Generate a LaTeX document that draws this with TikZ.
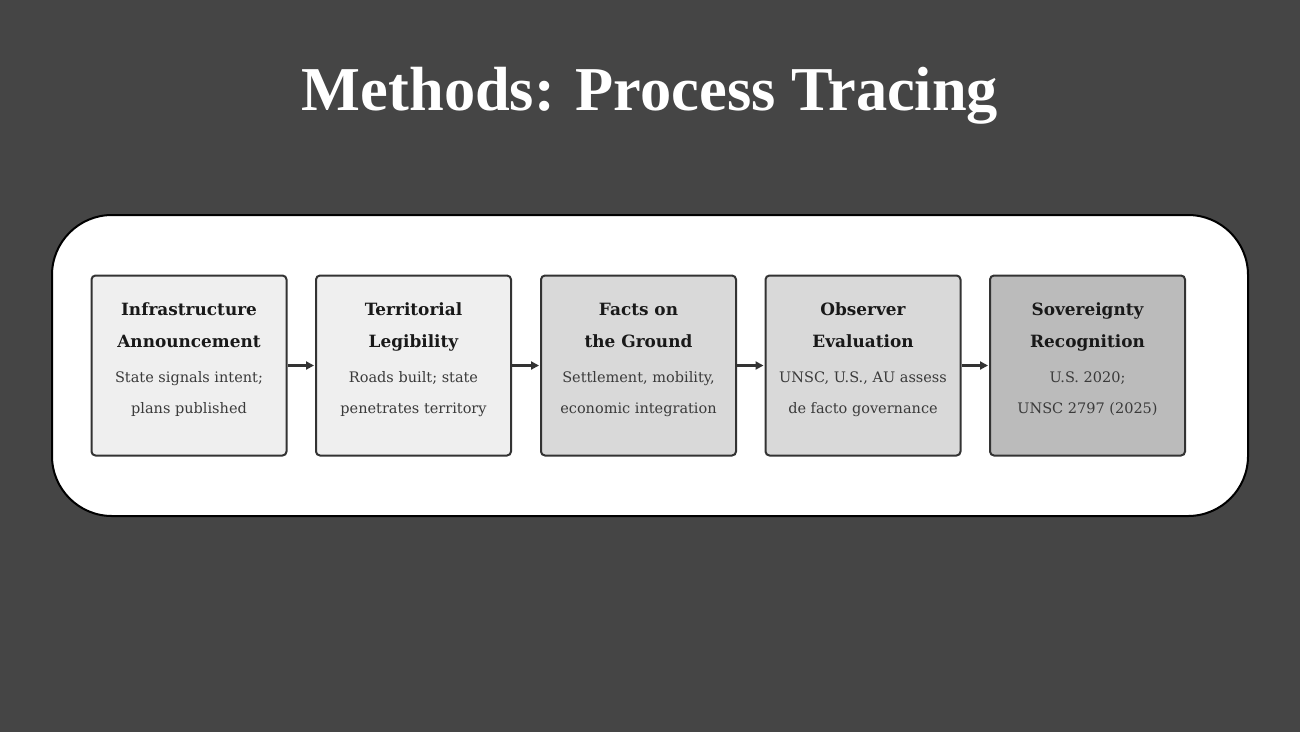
\documentclass[tikz,border=0pt]{standalone}
\usepackage{fontspec}
\setmainfont{DejaVu Serif}
\newfontfamily\titlefont{Liberation Serif}
\usetikzlibrary{arrows.meta}
\definecolor{bg}{HTML}{454545}
\definecolor{edge}{HTML}{333333}
\definecolor{fa}{HTML}{EFEFEF}
\definecolor{fb}{HTML}{D9D9D9}
\definecolor{fc}{HTML}{BBBBBB}
\definecolor{subc}{HTML}{3A3A3A}
\tikzset{
  stepbox/.style={draw=edge, line width=2pt, rounded corners=4pt, minimum width=195pt, minimum height=180pt, inner sep=0pt},
  flow/.style={draw=edge, line width=2.2pt, -{Triangle[length=8pt,width=8pt]}, shorten >=1pt},
  head/.style={font=\fontsize{16.9}{32}\selectfont\bfseries, text=black!90, anchor=base, inner sep=0pt},
  sub/.style={font=\fontsize{14.5}{31}\selectfont, text=subc, anchor=base, inner sep=0pt},
}
\begin{document}
\begin{tikzpicture}[x=1pt,y=-1pt]
\useasboundingbox (0,0) rectangle (1300,732);
\fill[bg] (0,0) rectangle (1300,732);
\node[text=white, font=\titlefont\fontsize{62.4}{66}\selectfont\bfseries] (title) at (650,96) {Methods: Process Tracing};
\draw[fill=white, draw=black, line width=2pt, rounded corners=60pt] (52,215) rectangle (1248,516);
\foreach \n/\x/\c in {a/189/fa, b/413.5/fa, c/638.5/fb, d/863/fb, e/1087.5/fc}{
  \node[stepbox, fill=\c] (\n) at (\x,365.5) {};
}
\foreach \n/\x/\ha/\hb/\sa/\sb in {
  a/189/{Infrastructure}/{Announcement}/{State signals intent;}/{plans published},
  b/413.5/{Territorial}/{Legibility}/{Roads built; state}/{penetrates territory},
  c/638.5/{Facts on}/{the Ground}/{Settlement, mobility,}/{economic integration},
  d/863/{Observer}/{Evaluation}/{UNSC, U.S., AU assess}/{de facto governance},
  e/1087.5/{Sovereignty}/{Recognition}/{U.S. 2020;}/{UNSC 2797 (2025)}}{
  \node[head] (\n h1) at (\x,315) {\ha};
  \node[head] (\n h2) at (\x,347) {\hb};
  \node[sub] (\n s1) at (\x,382.5) {\sa};
  \node[sub] (\n s2) at (\x,413.5) {\sb};
}
\draw[flow] (a.east) -- (b.west);
\draw[flow] (b.east) -- (c.west);
\draw[flow] (c.east) -- (d.west);
\draw[flow] (d.east) -- (e.west);
\end{tikzpicture}
\end{document}
